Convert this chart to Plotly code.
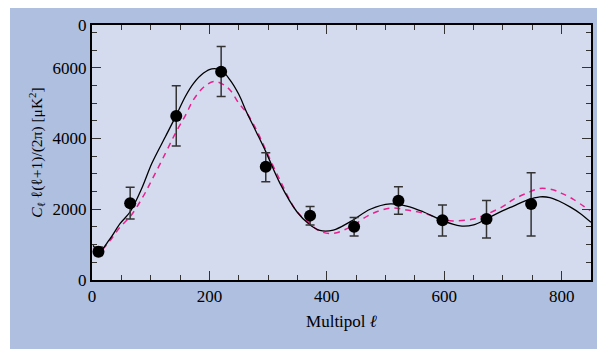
import plotly.graph_objects as go

# Measured band powers
ell_data = [11, 65, 143.5, 220, 296, 371.5, 446.5, 522, 597, 672, 748]
cl_data = [800, 2170, 4640, 5890, 3200, 1820, 1505, 2240, 1690, 1726, 2150]
cl_upper = [930, 2620, 5490, 6600, 3600, 2075, 1765, 2640, 2120, 2245, 3035]
cl_lower = [690, 1725, 3790, 5185, 2780, 1555, 1245, 1858, 1245, 1190, 1245]

# Model curve (solid)
ell_model = [2, 12, 30, 48, 65, 85, 102, 125, 143, 159, 173, 190, 204, 220, 235, 250, 264, 280,
             296, 320, 349, 371, 388, 411, 440, 474, 508, 536, 564, 597, 627, 650, 672, 700,
             718, 740, 763, 780, 797, 815, 831, 850]
cl_model = [980, 800, 1150, 1600, 1930, 2600, 3300, 4050, 4640, 5190, 5560, 5850, 5970, 5930,
            5660, 5250, 4720, 4180, 3630, 2740, 1930, 1560, 1400, 1410, 1650, 2000, 2150, 2090,
            1930, 1680, 1530, 1560, 1730, 1960, 2090, 2250, 2350, 2330, 2220, 2060, 1890, 1630]

# Alternative model (dashed)
ell_alt = [2, 12, 30, 48, 65, 85, 102, 125, 143, 159, 173, 190, 207, 220, 235, 250, 264, 280,
           296, 320, 349, 371, 388, 411, 440, 474, 508, 536, 564, 597, 615, 650, 672, 700,
           718, 740, 763, 785, 800, 820, 848]
cl_alt = [900, 800, 1100, 1500, 1790, 2300, 2830, 3580, 4180, 4650, 5100, 5450, 5610, 5560,
          5375, 5000, 4716, 4250, 3680, 2830, 1933, 1604, 1380, 1320, 1500, 1850, 2030, 1980,
          1890, 1720, 1670, 1726, 1860, 2080, 2280, 2450, 2590, 2550, 2450, 2280, 1960]

y_tickvals = [0, 2000, 4000, 6000, 7210]
y_ticktext = ["0", "2000", "4000", "6000", "0"]
x_tickvals = [0, 200, 400, 600, 800]
x_ticktext = ["0", "200", "400", "600", "800"]

err_plus = [u - v for u, v in zip(cl_upper, cl_data)]
err_minus = [v - l for v, l in zip(cl_data, cl_lower)]

fig = go.Figure()
fig.add_trace(go.Scatter(x=ell_alt, y=cl_alt, mode="lines",
                         line=dict(color="#e8218f", width=1.5, dash="6px,5px", shape="spline"),
                         hoverinfo="skip"))
fig.add_trace(go.Scatter(x=ell_model, y=cl_model, mode="lines",
                         line=dict(color="black", width=1.3, shape="spline"),
                         hoverinfo="skip"))
fig.add_trace(go.Scatter(x=ell_data, y=cl_data, mode="markers",
                         marker=dict(color="black", size=12),
                         error_y=dict(type="data", symmetric=False, array=err_plus,
                                      arrayminus=err_minus, color="#333333",
                                      thickness=1.5, width=4.5)))

font_family = "Liberation Serif, Times New Roman, serif"
axis_common = dict(showgrid=False, zeroline=False, showline=True, linecolor="black",
                   linewidth=2, mirror="ticks", ticks="inside", ticklen=9, tickwidth=1.3,
                   tickcolor="#333333", automargin=False,
                   tickfont=dict(size=17, color="black", family=font_family))

fig.update_xaxes(range=[0, 850], tickvals=x_tickvals, ticktext=x_ticktext,
                 minor=dict(dtick=50, tick0=0, ticks="inside", ticklen=5, tickwidth=1.2,
                            tickcolor="#333333"),
                 title=dict(text="Multipol <i>ℓ</i>", font=dict(size=17, family=font_family, color="black"),
                            standoff=10),
                 **axis_common)
fig.update_yaxes(range=[0, 7210], tickvals=y_tickvals, ticktext=y_ticktext,
                 minor=dict(dtick=500, tick0=0, ticks="inside", ticklen=5, tickwidth=1.2,
                            tickcolor="#333333"),
                 title=dict(text="<i>C</i><sub>ℓ</sub> ℓ(ℓ+1)/(2π) [μK<sup>2</sup>]",
                            font=dict(size=15.5, family=font_family, color="black"), standoff=6),
                 **axis_common)

# page body adds an 8px offset; figure is sized/positioned to compensate
off = 8
W, H = 605 - off, 349 - off
pw, ph = 499, 255
ml, mt = 92 - off, 25 - off
fig.update_layout(
    width=W, height=H,
    margin=dict(l=ml, r=W - ml - pw, t=mt, b=H - mt - ph, pad=0, autoexpand=False),
    paper_bgcolor="#afbfe0", plot_bgcolor="#d5dbef",
    showlegend=False,
    font=dict(family=font_family, color="black"),
    shapes=[
        dict(type="rect", xref="paper", yref="paper", layer="below",
             x0=(0 - ml) / pw, x1=(10 - off - ml) / pw, y0=-1, y1=2,
             fillcolor="white", line=dict(width=0)),
    ],
)

fig.write_html("out.html")
